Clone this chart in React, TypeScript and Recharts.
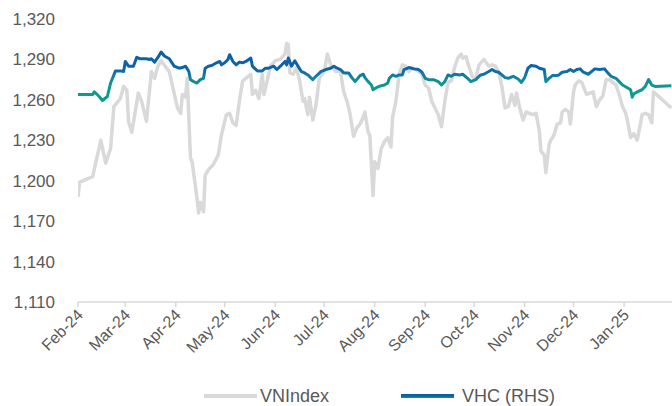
import React from "react";
import { Legend, Line, LineChart, XAxis, YAxis } from "recharts";

// VNIndex (left axis) readings
const vniDates = [
  "2024-02-01", "2024-02-02", "2024-02-10", "2024-02-12", "2024-02-15", "2024-02-18", "2024-02-21", "2024-02-23", "2024-02-25", "2024-02-27",
  "2024-02-29", "2024-03-02", "2024-03-03", "2024-03-05", "2024-03-09", "2024-03-11", "2024-03-14", "2024-03-17", "2024-03-19", "2024-03-21",
  "2024-03-23", "2024-03-26", "2024-03-28", "2024-04-02", "2024-04-04", "2024-04-05", "2024-04-07", "2024-04-08", "2024-04-10", "2024-04-11",
  "2024-04-14", "2024-04-15", "2024-04-16", "2024-04-18", "2024-04-19", "2024-04-21", "2024-04-24", "2024-04-27", "2024-04-29", "2024-05-02",
  "2024-05-04", "2024-05-06", "2024-05-08", "2024-05-10", "2024-05-12", "2024-05-15", "2024-05-17", "2024-05-18", "2024-05-20", "2024-05-22",
  "2024-05-24", "2024-05-25", "2024-05-28", "2024-05-29", "2024-06-01", "2024-06-04", "2024-06-07", "2024-06-08", "2024-06-09", "2024-06-10",
  "2024-06-12", "2024-06-14", "2024-06-16", "2024-06-18", "2024-06-19", "2024-06-21", "2024-06-22", "2024-06-24", "2024-06-26", "2024-06-28",
  "2024-07-01", "2024-07-03", "2024-07-05", "2024-07-08", "2024-07-11", "2024-07-13", "2024-07-15", "2024-07-17", "2024-07-19", "2024-07-21",
  "2024-07-23", "2024-07-25", "2024-07-26", "2024-07-28", "2024-07-29", "2024-07-31", "2024-08-01", "2024-08-03", "2024-08-05", "2024-08-07",
  "2024-08-09", "2024-08-11", "2024-08-12", "2024-08-14", "2024-08-16", "2024-08-18", "2024-08-20", "2024-08-22", "2024-08-24", "2024-08-27",
  "2024-08-30", "2024-09-01", "2024-09-03", "2024-09-05", "2024-09-07", "2024-09-09", "2024-09-11", "2024-09-13", "2024-09-15", "2024-09-17",
  "2024-09-19", "2024-09-21", "2024-09-23", "2024-09-24", "2024-09-26", "2024-09-28", "2024-09-30", "2024-10-02", "2024-10-04", "2024-10-07",
  "2024-10-10", "2024-10-12", "2024-10-14", "2024-10-16", "2024-10-18", "2024-10-20", "2024-10-22", "2024-10-24", "2024-10-26", "2024-10-27",
  "2024-10-29", "2024-10-31", "2024-11-02", "2024-11-04", "2024-11-06", "2024-11-08", "2024-11-10", "2024-11-11", "2024-11-13", "2024-11-14",
  "2024-11-16", "2024-11-17", "2024-11-19", "2024-11-21", "2024-11-23", "2024-11-24", "2024-11-26", "2024-11-28", "2024-11-29", "2024-12-01",
  "2024-12-02", "2024-12-04", "2024-12-06", "2024-12-09", "2024-12-11", "2024-12-13", "2024-12-15", "2024-12-17", "2024-12-19", "2024-12-21",
  "2024-12-23", "2024-12-25", "2024-12-27", "2024-12-29", "2024-12-31", "2025-01-02", "2025-01-03", "2025-01-05", "2025-01-07", "2025-01-09",
  "2025-01-11", "2025-01-12", "2025-01-14", "2025-01-16", "2025-01-18", "2025-01-19", "2025-01-30",
];
const vniValues = [
  1188, 1199, 1203, 1214, 1230, 1213, 1224, 1255, 1258, 1261,
  1270, 1267, 1244, 1236, 1265, 1259, 1244, 1281, 1276, 1285,
  1289, 1284, 1281, 1254, 1250, 1264, 1262, 1276, 1217, 1214,
  1187, 1176, 1184, 1177, 1204, 1208, 1212, 1219, 1234, 1249,
  1250, 1243, 1241, 1259, 1274, 1277, 1279, 1264, 1267, 1261,
  1279, 1264, 1279, 1285, 1289, 1290, 1294, 1302, 1301, 1280,
  1279, 1284, 1274, 1259, 1261, 1249, 1262, 1245, 1256, 1276,
  1281, 1294, 1286, 1281, 1281, 1266, 1259, 1249, 1233, 1239,
  1242, 1247, 1251, 1236, 1234, 1189, 1214, 1209, 1224, 1229,
  1232, 1225, 1247, 1259, 1279, 1286, 1285, 1281, 1284, 1282,
  1279, 1271, 1269, 1259, 1254, 1249, 1240, 1259, 1273, 1274,
  1284, 1291, 1294, 1291, 1292, 1284, 1277, 1276, 1286, 1290,
  1285, 1286, 1285, 1281, 1270, 1254, 1255, 1264, 1256, 1265,
  1254, 1245, 1251, 1250, 1249, 1250, 1237, 1222, 1219, 1206,
  1227, 1230, 1234, 1242, 1243, 1251, 1253, 1251, 1242, 1266,
  1271, 1274, 1273, 1264, 1265, 1266, 1255, 1260, 1263, 1275,
  1275, 1273, 1271, 1264, 1255, 1250, 1245, 1232, 1235, 1230,
  1242, 1249, 1250, 1249, 1243, 1266, 1254,
];

// VHC share price (right axis, VND)
const vhcDates = [
  "2024-02-01", "2024-02-10", "2024-02-11", "2024-02-14", "2024-02-16", "2024-02-19", "2024-02-21", "2024-02-24", "2024-02-27", "2024-02-29",
  "2024-03-01", "2024-03-03", "2024-03-06", "2024-03-08", "2024-03-10", "2024-03-14", "2024-03-16", "2024-03-17", "2024-03-19", "2024-03-21",
  "2024-03-23", "2024-03-25", "2024-03-28", "2024-03-31", "2024-04-03", "2024-04-05", "2024-04-07", "2024-04-09", "2024-04-10", "2024-04-12",
  "2024-04-14", "2024-04-16", "2024-04-18", "2024-04-19", "2024-04-21", "2024-04-23", "2024-04-26", "2024-04-28", "2024-04-29", "2024-05-01",
  "2024-05-03", "2024-05-04", "2024-05-06", "2024-05-08", "2024-05-10", "2024-05-12", "2024-05-14", "2024-05-17", "2024-05-18", "2024-05-21",
  "2024-05-24", "2024-05-26", "2024-05-28", "2024-05-31", "2024-06-02", "2024-06-05", "2024-06-07", "2024-06-08", "2024-06-09", "2024-06-11",
  "2024-06-13", "2024-06-15", "2024-06-17", "2024-06-19", "2024-06-21", "2024-06-24", "2024-06-26", "2024-06-29", "2024-07-02", "2024-07-05",
  "2024-07-07", "2024-07-09", "2024-07-11", "2024-07-13", "2024-07-16", "2024-07-18", "2024-07-20", "2024-07-23", "2024-07-25", "2024-07-26",
  "2024-07-28", "2024-07-30", "2024-07-31", "2024-08-02", "2024-08-05", "2024-08-07", "2024-08-09", "2024-08-10", "2024-08-12", "2024-08-14",
  "2024-08-16", "2024-08-18", "2024-08-19", "2024-08-22", "2024-08-25", "2024-08-28", "2024-08-30", "2024-09-01", "2024-09-03", "2024-09-06",
  "2024-09-09", "2024-09-11", "2024-09-13", "2024-09-15", "2024-09-17", "2024-09-19", "2024-09-22", "2024-09-24", "2024-09-27", "2024-09-29",
  "2024-10-02", "2024-10-05", "2024-10-07", "2024-10-10", "2024-10-12", "2024-10-14", "2024-10-16", "2024-10-18", "2024-10-20", "2024-10-22",
  "2024-10-25", "2024-10-28", "2024-10-30", "2024-11-01", "2024-11-03", "2024-11-05", "2024-11-08", "2024-11-10", "2024-11-13", "2024-11-14",
  "2024-11-16", "2024-11-18", "2024-11-21", "2024-11-22", "2024-11-24", "2024-11-27", "2024-11-29", "2024-12-01", "2024-12-03", "2024-12-05",
  "2024-12-07", "2024-12-10", "2024-12-12", "2024-12-14", "2024-12-17", "2024-12-20", "2024-12-22", "2024-12-24", "2024-12-27", "2024-12-29",
  "2024-12-31", "2025-01-03", "2025-01-05", "2025-01-06", "2025-01-07", "2025-01-10", "2025-01-12", "2025-01-14", "2025-01-16", "2025-01-18",
  "2025-01-20", "2025-01-30",
];
const vhcValues = [
  70800, 70800, 71200, 70500, 69900, 70500, 72500, 74300, 74300, 74200,
  75700, 75000, 75000, 76300, 76100, 76100, 76000, 76100, 75600, 76300,
  77100, 76500, 76100, 75000, 74700, 74800, 75000, 74200, 73000, 72700,
  72500, 73000, 73200, 74700, 75000, 75100, 75500, 75700, 75200, 75500,
  76000, 76700, 75700, 75200, 75600, 75500, 75700, 76200, 75000, 74300,
  74300, 74700, 74700, 75000, 74500, 75200, 75700, 75200, 76200, 75000,
  75800, 75000, 74200, 74000, 73700, 73000, 73500, 74200, 74500, 74700,
  75000, 74700, 74500, 74000, 74000, 73300, 72700, 73600, 73800, 73300,
  72700, 72200, 71500, 71800, 72100, 72200, 72500, 73200, 73700, 73500,
  73700, 73700, 74500, 74800, 74600, 74500, 74100, 73200, 73000, 73000,
  72700, 72200, 72700, 73700, 73500, 73800, 73700, 73800, 73200, 72700,
  73000, 73700, 73800, 74200, 74500, 74200, 74100, 73700, 73300, 73200,
  73500, 73100, 72600, 73300, 74700, 75100, 75000, 74700, 74500, 72700,
  73200, 73600, 73600, 73700, 74100, 74200, 74500, 74200, 74500, 74600,
  74100, 73800, 74200, 74600, 74500, 74600, 74000, 73500, 73200, 72700,
  72200, 71800, 71500, 70400, 70900, 71300, 71500, 72000, 73000, 72200,
  72000, 72100,
];

const monthTicks = [
  "2024-02-01", "2024-03-01", "2024-04-01", "2024-05-01", "2024-06-01", "2024-07-01",
  "2024-08-01", "2024-09-01", "2024-10-01", "2024-11-01", "2024-12-01", "2025-01-01",
];
const leftTicks = [1110, 1140, 1170, 1200, 1230, 1260, 1290, 1320];
const MONTHS = ["Jan", "Feb", "Mar", "Apr", "May", "Jun", "Jul", "Aug", "Sep", "Oct", "Nov", "Dec"];

const toTs = (d: string) => Date.parse(d + "T00:00:00Z");
const vniData = vniDates.map((d, i) => ({ t: toTs(d), v: vniValues[i] }));
const vhcData = vhcDates.map((d, i) => ({ t: toTs(d), v: vhcValues[i] }));

const fmtMonth = (t: number) => {
  const d = new Date(t);
  return `${MONTHS[d.getUTCMonth()]}-${String(d.getUTCFullYear()).slice(2)}`;
};

const FONT = "'Liberation Sans', Arial, sans-serif";
const TEXT = "#595959";

const XTick = (props: any) => {
  const { x, y, payload } = props;
  const px = x + 6;
  const py = y + 9;
  return (
    <text
      x={px}
      y={py}
      transform={`rotate(-45 ${px} ${py})`}
      textAnchor="end"
      fill={TEXT}
      fontSize={16}
      fontFamily={FONT}
    >
      {fmtMonth(payload.value)}
    </text>
  );
};

const LegendBox = () => (
  <div
    style={{
      display: "flex",
      justifyContent: "center",
      alignItems: "center",
      height: 24,
      gap: 72,
      fontFamily: FONT,
      fontSize: 18,
      color: TEXT,
    }}
  >
    <div style={{ display: "flex", alignItems: "center", gap: 3 }}>
      <span style={{ display: "inline-block", width: 53, height: 4, background: "#d9d9d9" }} />
      <span>VNIndex</span>
    </div>
    <div style={{ display: "flex", alignItems: "center", gap: 8 }}>
      <span
        style={{
          display: "inline-block",
          width: 53,
          height: 4,
          background: "linear-gradient(#0b5ea8 0%, #0b5ea8 50%, #0d9c8c 100%)",
        }}
      />
      <span>VHC (RHS)</span>
    </div>
  </div>
);

export default function App() {
  return (
    <div
      style={{
        position: "absolute",
        left: 0,
        top: 0,
        width: 672,
        height: 406,
        overflow: "hidden",
        background: "#fff",
      }}
    >
      <LineChart width={673} height={406} margin={{ top: 19, right: 0, left: 0, bottom: 0 }}>
        <defs>
          <linearGradient id="vhcGrad" x1="0" y1="0" x2="0" y2="1">
            <stop offset="0%" stopColor="#0b5ea8" />
            <stop offset="35%" stopColor="#0e64aa" />
            <stop offset="50%" stopColor="#127ea2" />
            <stop offset="65%" stopColor="#0f9692" />
            <stop offset="100%" stopColor="#0b9f8a" />
          </linearGradient>
        </defs>
        <XAxis
          dataKey="t"
          type="number"
          domain={[toTs("2024-02-01"), toTs("2025-01-31")]}
          ticks={monthTicks.map(toTs)}
          interval={0}
          allowDataOverflow
          height={80}
          tick={<XTick />}
          tickSize={5}
          tickMargin={0}
          axisLine={{ stroke: "#d9d9d9", strokeWidth: 1.5 }}
          tickLine={{ stroke: "#d9d9d9", strokeWidth: 1.5 }}
        />
        <YAxis
          yAxisId="left"
          domain={[1110, 1320]}
          ticks={leftTicks}
          width={78}
          axisLine={false}
          tickLine={false}
          tickSize={0}
          tickMargin={23}
          tickFormatter={(v: number) => v.toLocaleString("en-US")}
          tick={{ fill: TEXT, fontSize: 17, fontFamily: FONT }}
        />
        <YAxis yAxisId="right" orientation="right" domain={[40000, 82000]} hide />
        <Legend
          verticalAlign="bottom"
          content={<LegendBox />}
          wrapperStyle={{ left: 82, width: 595, bottom: -2 }}
        />
        <Line
          yAxisId="left"
          data={vniData}
          dataKey="v"
          name="VNIndex"
          type="linear"
          stroke="#d9d9d9"
          strokeWidth={3.5}
          strokeLinejoin="round"
          dot={false}
          activeDot={false}
          isAnimationActive={false}
        />
        <Line
          yAxisId="right"
          data={vhcData}
          dataKey="v"
          name="VHC (RHS)"
          type="linear"
          stroke="url(#vhcGrad)"
          strokeWidth={3}
          strokeLinejoin="round"
          dot={false}
          activeDot={false}
          isAnimationActive={false}
        />
      </LineChart>
    </div>
  );
}
